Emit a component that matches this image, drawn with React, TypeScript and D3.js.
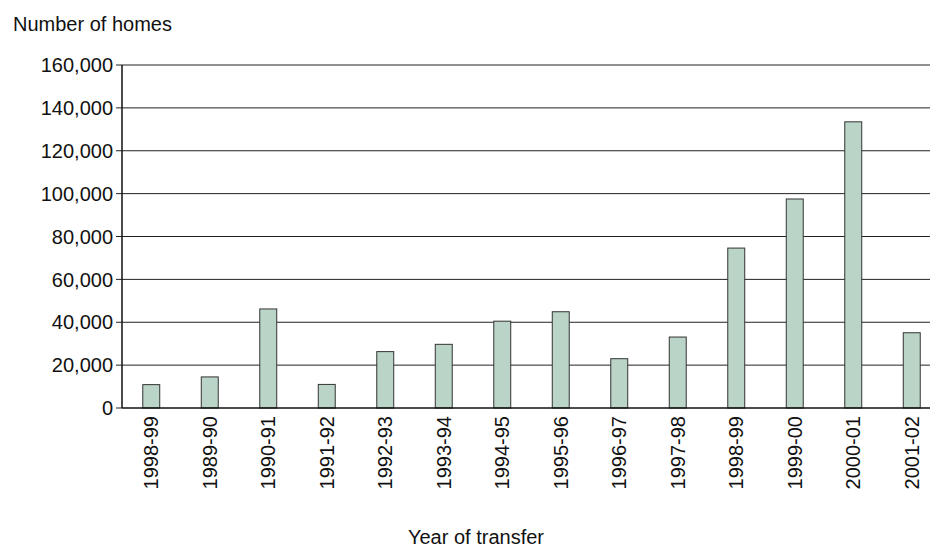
import * as d3 from 'd3';

const years = [
  '1998-99', '1989-90', '1990-91', '1991-92', '1992-93', '1993-94', '1994-95',
  '1995-96', '1996-97', '1997-98', '1998-99', '1999-00', '2000-01', '2001-02',
];
const homes = [
  10900, 14500, 46200, 11000, 26300, 29700, 40500,
  44900, 23000, 33100, 74600, 97500, 133500, 35100,
];
const yTicks = [0, 20000, 40000, 60000, 80000, 100000, 120000, 140000, 160000];

const width = 930;
const height = 547;
const left = 122;
const top = 65;
const bottom = 408;

export default function App() {
  const x = d3
    .scaleBand<number>()
    .domain(d3.range(years.length))
    .range([left, 941])
    .paddingInner(0.71)
    .paddingOuter(0.355);
  const y = d3.scaleLinear().domain([0, 160000]).range([bottom, top]);
  const fmt = d3.format(',');

  return (
    <svg
      width={width}
      height={height}
      style={{ position: 'absolute', left: 0, top: 0, background: '#fff' }}
      fontFamily="Liberation Sans, Arial, sans-serif"
    >
      <text x={13} y={31} fontSize={20} fill="#111">
        Number of homes
      </text>

      {/* gridlines and ticks */}
      {yTicks.map((t) => (
        <g key={t}>
          {t > 0 && (
            <line x1={left} x2={width} y1={y(t)} y2={y(t)} stroke="#222" strokeWidth={1} />
          )}
          <line x1={left - 6} x2={left} y1={y(t)} y2={y(t)} stroke="#222" strokeWidth={1} />
          <text
            x={113}
            y={y(t)}
            dy="0.36em"
            textAnchor="end"
            fontSize={20}
            fill="#111"
          >
            {fmt(t)}
          </text>
        </g>
      ))}

      {homes.map((v, i) => (
        <rect
          key={i}
          x={x(i)}
          y={y(v)}
          width={x.bandwidth()}
          height={bottom - y(v)}
          fill="#bad5c7"
          stroke="#333"
          strokeWidth={1}
        />
      ))}

      <line x1={left} x2={left} y1={top} y2={bottom} stroke="#111" strokeWidth={1.5} />
      <line x1={left} x2={width} y1={bottom} y2={bottom} stroke="#111" strokeWidth={1.5} />

      {years.map((yr, i) => {
        const cx = (x(i) ?? 0) + x.bandwidth() / 2;
        return (
          <text
            key={i}
            transform={`translate(${cx},${416}) rotate(-90)`}
            textAnchor="end"
            dy="0.36em"
            fontSize={20}
            fill="#111"
          >
            {yr}
          </text>
        );
      })}

      <text x={476} y={544} textAnchor="middle" fontSize={20} fill="#111">
        Year of transfer
      </text>
    </svg>
  );
}
